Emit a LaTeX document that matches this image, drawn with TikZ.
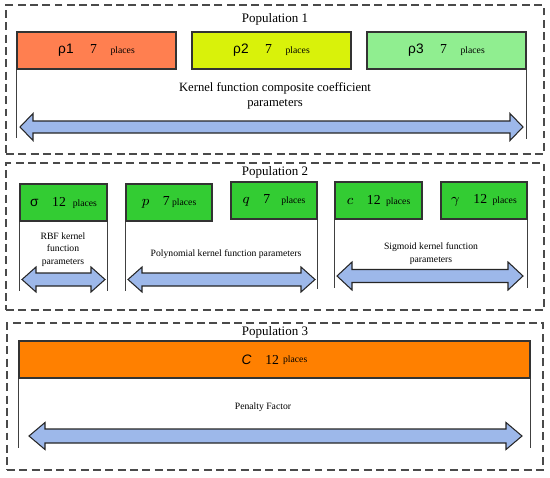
\documentclass[tikz,border=0pt]{standalone}
\usepackage{fontspec}
\setmainfont{Liberation Serif}
\newfontfamily\arialfont{Liberation Sans}
\usepackage{tikz}
\usetikzlibrary{positioning,calc}
\definecolor{xcoral}{HTML}{FF7F50}
\definecolor{xlime}{HTML}{D9F20A}
\definecolor{xmint}{HTML}{90EE90}
\definecolor{xgreen}{HTML}{33CC33}
\definecolor{xorange}{HTML}{FF8000}
\definecolor{xarrow}{HTML}{9DB8EA}
\definecolor{xframe}{HTML}{4A4A4A}

\newcommand\pl{{\fontsize{5.5}{6.5}\selectfont places}}
% double arrow: left tip, right tip, mid y, half shaft, half head, head length
\newcommand\dblarrow[6]{%
  \draw[bar] (#1,#3) -- (#1+#6,#3-#5) -- (#1+#6,#3-#4) -- (#2-#6,#3-#4) -- (#2-#6,#3-#5) -- (#2,#3)
    -- (#2-#6,#3+#5) -- (#2-#6,#3+#4) -- (#1+#6,#3+#4) -- (#1+#6,#3+#5) -- cycle;}

\begin{document}
\begin{tikzpicture}[
    x=0.02cm, y=-0.02cm,
    group/.style={rectangle, draw=xframe, line width=0.8pt, dash pattern=on 4.5pt off 2.5pt, inner sep=0pt},
    cell/.style={rectangle, draw=black!80, line width=0.7pt, fill=#1, inner sep=0pt, minimum height=0.74cm, font=\fontsize{7.8}{9}\selectfont},
    title/.style={font=\fontsize{7.4}{8}\selectfont},
    note/.style={font=\fontsize{5.5}{7.1}\selectfont, align=center},
    guide/.style={draw=black!75, line width=0.6pt},
    bar/.style={draw=black!85, fill=xarrow, line width=0.6pt, line join=miter},
]
\useasboundingbox (0,0) rectangle (550,477);

% Population frames
\node[group, minimum width=10.76cm, minimum height=2.98cm] (pop1) at (275,79.5) {};
\node[group, minimum width=10.76cm, minimum height=2.94cm] (pop2) at (275,236.5) {};
\node[group, minimum width=10.72cm, minimum height=2.94cm] (pop3) at (275,396.5) {};
\node[title] (t1) at (275,19) {Population 1};
\node[title] (t2) at (275,172) {Population 2};
\node[title] (t3) at (275,332) {Population 3};

% Population 1
\foreach \name/\x/\c/\lab in {
    rho1/96.5/xcoral/1,
    rho2/271.5/xlime/2,
    rho3/446.5/xmint/3%
} {
    \node[cell=\c, minimum width=3.18cm] (\name) at (\x,50.5) {{\arialfont ρ\lab}\hspace{1.2em}7\hspace{1em}\pl};
}
\draw[guide] (rho1.south west) -- ++(0,68);
\draw[guide] (rho3.south east) -- ++(0,69);
\node[font=\fontsize{7.2}{8.5}\selectfont, align=center] (kc) at (275,95.5) {Kernel function composite coefficient\\parameters};
\dblarrow{20}{523}{127}{6}{13.5}{13}

% Population 2
\foreach \name/\x/\y/\w/\lab in {
    sig/63.5/202.5/1.74cm/{{\arialfont σ}\hspace{1em}12\hspace{0.5em}\pl},
    pp/169/202.5/1.72cm/{$p$\hspace{1em}7\,\pl},
    qq/274/200.5/1.72cm/{$q$\hspace{1em}7\hspace{0.8em}\pl},
    cc/378.5/200.5/1.74cm/{$c$\hspace{1em}12\hspace{0.4em}\pl},
    gam/484/200.5/1.72cm/{$\gamma$\hspace{1em}12\hspace{0.4em}\pl}%
} {
    \node[cell=xgreen, minimum width=\w] (\name) at (\x,\y) {\lab};
}
\draw[guide] (sig.south west) -- ++(0,69);
\draw[guide] (sig.south east) -- ++(0,69);
\draw[guide] (pp.south west) -- ++(0,69);
\draw[guide] (qq.south east) -- ++(0,69);
\draw[guide] (cc.south west) -- ++(0,68);
\draw[guide] (gam.south east) -- ++(0,68);
\node[note] (rbf) at (63,249.5) {RBF kernel\\function\\parameters};
\node[note] (poly) at (226,254) {Polynomial kernel function parameters};
\node[note, font=\fontsize{5.5}{7.4}\selectfont] (sigm) at (431,253.5) {Sigmoid kernel function\\parameters};
\dblarrow{22}{105}{279.5}{6.5}{12.5}{14}
\dblarrow{128}{315}{279.5}{6.5}{12.5}{14}
\dblarrow{337}{523}{276}{6.5}{14}{15}

% Population 3
\node[cell=xorange, minimum width=10.22cm] (cpen) at (274.5,359.5) {{\arialfont\itshape C}\hspace{1em}12\hspace{0.3em}\raisebox{1pt}{\pl}};
\draw[guide] (cpen.south west) -- ++(0,69);
\draw[guide] (cpen.south east) -- ++(0,69);
\node[note] (pen) at (263,407) {Penalty Factor};
\dblarrow{29}{522}{436}{7}{13.5}{16}

\end{tikzpicture}
\end{document}
